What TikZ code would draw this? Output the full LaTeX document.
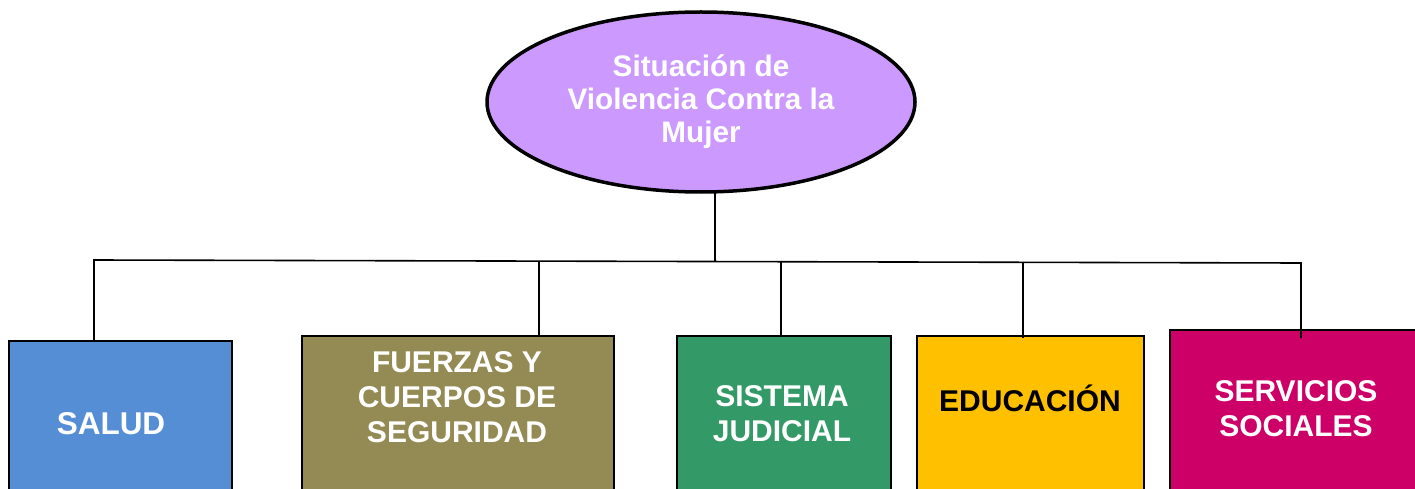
\documentclass[tikz,border=0pt]{standalone}
\usepackage{fontspec}
\setmainfont{Liberation Sans}
\usetikzlibrary{shapes.geometric}
\definecolor{lila}{HTML}{CC99FF}
\definecolor{cSalud}{HTML}{558ED5}
\definecolor{cFuerzas}{HTML}{948A54}
\definecolor{cSistema}{HTML}{339966}
\definecolor{cEdu}{HTML}{FFC000}
\definecolor{cServ}{HTML}{CC0066}
\tikzset{
  boxnode/.style={draw=black, line width=2pt, anchor=north west, inner sep=0pt},
  boxtext/.style={font=\bfseries\fontsize{30}{35}\selectfont, align=center, text=white, inner sep=0pt},
  conn/.style={draw=black, line width=1.6pt},
}
\begin{document}
\begin{tikzpicture}[x=1pt,y=-1pt]
\useasboundingbox (0,0) rectangle (1415,489);
\clip (0,0) rectangle (1415,489);
% root ellipse
\node[ellipse, draw=black, line width=3.5pt, fill=lila, minimum width=428pt, minimum height=180pt, inner sep=0pt] (root) at (701,102) {};
\node[font=\bfseries\fontsize{29.7}{33}\selectfont, text=white, align=center, inner sep=0pt] (roottxt) at (701,102) {Situación de\\Violencia Contra la\\Mujer};
% boxes
\node[boxnode, fill=cSalud, minimum width=223pt, minimum height=170pt] (salud) at (8,340) {};
\node[boxnode, fill=cFuerzas, minimum width=312pt, minimum height=170pt] (fuerzas) at (301,335) {};
\node[boxnode, fill=cSistema, minimum width=214pt, minimum height=170pt] (sistema) at (676,335) {};
\node[boxnode, fill=cEdu, minimum width=227pt, minimum height=170pt] (edu) at (916,335) {};
\node[boxnode, fill=cServ, minimum width=260pt, minimum height=170pt] (serv) at (1169,329) {};
% texts
\node[boxtext, font=\bfseries\fontsize{31.5}{35}\selectfont] (saludtxt) at (111,424) {SALUD};
\node[boxtext] (fuerzastxt) at (457,397) {FUERZAS Y\\CUERPOS DE\\SEGURIDAD};
\node[boxtext] (sistematxt) at (782,414) {SISTEMA\\JUDICIAL};
\node[boxtext, text=black] (edutxt) at (1030,398) {EDUCACIÓN};
\node[boxtext] (servtxt) at (1296,409) {SERVICIOS\\SOCIALES};
% connector coordinates
\coordinate (rootb) at (715,192);
\coordinate (hub) at (715,261.7);
\coordinate (hl) at (94,260);
\coordinate (hr) at (1301,263);
\coordinate (dF) at (539,261.2);
\coordinate (dS) at (781,261.8);
\coordinate (dE) at (1023,262.4);
\coordinate (tS) at (94,340);
\coordinate (tF) at (539,335);
\coordinate (tSi) at (781,335);
\coordinate (tE) at (1023,338);
\coordinate (tV) at (1301,338);
\draw[conn] (rootb) -- (hub);
\draw[conn] (tS) -- (hl) -- (hr) -- (tV);
\draw[conn] (dF) -- (tF);
\draw[conn] (dS) -- (tSi);
\draw[conn] (dE) -- (tE);
\end{tikzpicture}
\end{document}
